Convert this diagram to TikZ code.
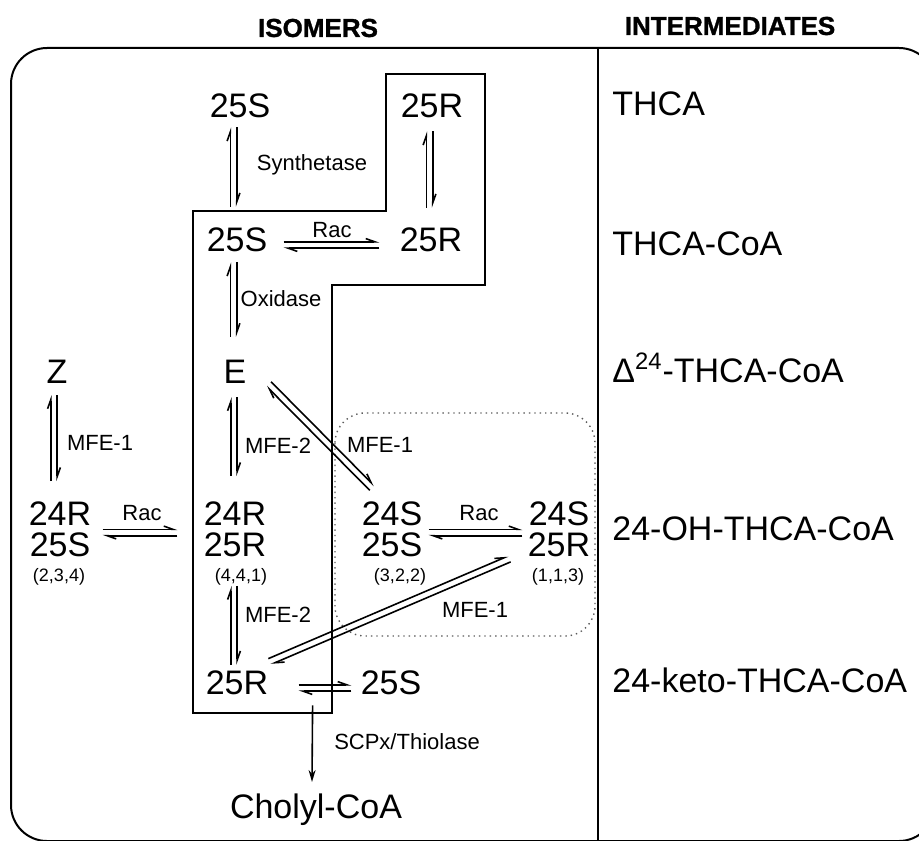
\documentclass[tikz,border=0pt]{standalone}
\usepackage{fontspec}
\setmainfont{Liberation Sans}
\newfontfamily\headfont[BoldFeatures={FakeBold=1.2}]{Liberation Sans}
\usetikzlibrary{arrows.meta,calc}
\definecolor{cordotted}{RGB}{90,90,90}

\tikzset{
  iso/.style={inner sep=0pt, align=center, font=\fontsize{17}{15.5}\selectfont},
  inter/.style={inner sep=0pt, anchor=base west, font=\fontsize{17}{19}\selectfont},
  enz/.style={inner sep=0pt, font=\fontsize{11}{13}\selectfont},
  cnt/.style={inner sep=0pt, font=\fontsize{9}{11}\selectfont},
  head/.style={inner sep=0pt, font=\fontsize{13}{15}\selectfont\headfont\bfseries},
  harp/.style={line width=0.8pt, -{Straight Barb[left, length=4.5pt, width=3.2pt]}},
}
\newcommand{\equil}[2]{%
  \draw[harp] ($#1!1.6pt!90:#2$) -- ($#2!1.6pt!-90:#1$);
  \draw[harp] ($#2!1.6pt!90:#1$) -- ($#1!1.6pt!-90:#2$);}

\begin{document}
\begin{tikzpicture}[x=0.5pt, y=-0.5pt]
  \useasboundingbox (0,0) rectangle (919,840);
  \draw[line width=1pt, rounded corners=18pt] (11,48) rectangle (935,841);
  \draw[line width=1pt] (598,48) -- (598,840);
  \draw[line width=0.9pt] (193,211) -- (386,211) -- (386,74) -- (485,74) -- (485,285)
    -- (332,285) -- (332,713) -- (193,713) -- cycle;
  \draw[cordotted, dotted, line width=0.7pt, rounded corners=15pt] (335,413) rectangle (595,636);

  \node[head] (hiso) at (318,28) {ISOMERS};
  \node[head] (hint) at (730,26) {INTERMEDIATES};

  \node[iso] (t25S) at (240,106) {25S};
  \node[iso] (t25R) at (432,106) {25R};
  \node[iso] (s25S) at (237,240) {25S};
  \node[iso] (s25R) at (431,240) {25R};
  \node[iso] (eZ) at (57,372) {Z};
  \node[iso] (eE) at (235,372) {E};
  \node[iso] (hRS) at (60,529) {24R\\25S};
  \node[iso] (hRR) at (235,529) {24R\\25R};
  \node[iso] (hSS) at (392,529) {24S\\25S};
  \node[iso] (hSR) at (559,529) {24S\\25R};
  \node[cnt] (cRS) at (59,577) {(2,3,4)};
  \node[cnt] (cRR) at (241,577) {(4,4,1)};
  \node[cnt] (cSS) at (400,577) {(3,2,2)};
  \node[cnt] (cSR) at (558,577) {(1,1,3)};
  \node[iso] (k25R) at (237,683) {25R};
  \node[iso] (k25S) at (391,683) {25S};
  \node[iso, anchor=base] (chol) at (316,818) {Cholyl-CoA};

  \node[inter] (iTHCA) at (612,115) {THCA};
  \node[inter] (iCoA) at (612,255) {THCA-CoA};
  \node[inter] (iDelta) at (612,382) {Δ\textsuperscript{24}-THCA-CoA};
  \node[inter] (iOH) at (612,540) {24-OH-THCA-CoA};
  \node[inter] (iketo) at (612,692) {24-keto-THCA-CoA};

  \node[enz] (lSyn) at (312,165) {Synthetase};
  \node[enz] (lRacA) at (332,230) {Rac};
  \node[enz] (lOx) at (281,299) {Oxidase};
  \node[enz] (lMFEa) at (100,443) {MFE-1};
  \node[enz] (lMFEb) at (278,446) {MFE-2};
  \node[enz] (lMFEc) at (380,445) {MFE-1};
  \node[enz] (lRacB) at (142,513) {Rac};
  \node[enz] (lRacC) at (479,513) {Rac};
  \node[enz] (lMFEd) at (278,615) {MFE-2};
  \node[enz] (lMFEe) at (475,610) {MFE-1};
  \node[enz] (lSCP) at (407,742) {SCPx/Thiolase};

  \equil{([xshift=-3.25pt,yshift=-4.5pt]t25S.south)}{([xshift=-1.75pt,yshift=10.5pt]s25S.north)}
  \equil{([xshift=-1.25pt,yshift=-6.5pt]t25R.south)}{([xshift=-0.75pt,yshift=10pt]s25R.north)}
  \equil{([xshift=8pt,yshift=-2.5pt]s25S.east)}{([xshift=-10pt,yshift=-2.5pt]s25R.west)}
  \equil{([xshift=-1.75pt,yshift=-5pt]s25S.south)}{([xshift=-0.75pt,yshift=11.5pt]eE.north)}
  \equil{([xshift=-1.5pt,yshift=-5.5pt]eZ.south)}{([xshift=-3pt,yshift=10pt]hRS.north)}
  \equil{([xshift=-0.5pt,yshift=-6.5pt]eE.south)}{([xshift=-0.5pt,yshift=12.5pt]hRR.north)}
  \equil{([xshift=11pt,yshift=-6pt]eE.east)}{([xshift=-10pt,yshift=6.5pt]hSS.north)}
  \equil{([xshift=5.5pt,yshift=-1.75pt]hRS.east)}{([xshift=-13pt,yshift=-1.75pt]hRR.west)}
  \equil{([xshift=3pt,yshift=-1.75pt]hSS.east)}{([xshift=-2.5pt,yshift=-1.75pt]hSR.west)}
  \equil{([xshift=-0.5pt,yshift=-14.5pt]hRR.south)}{([xshift=-1.5pt,yshift=3pt]k25R.north)}
  \equil{([xshift=-9pt,yshift=-1pt]hSR.south west)}{([xshift=0.5pt,yshift=4.5pt]k25R.north east)}
  \equil{([xshift=15pt,yshift=-2.5pt]k25R.east)}{([xshift=-4.5pt,yshift=-2.5pt]k25S.west)}
  \draw[line width=0.8pt, -{Stealth[length=6pt, width=3.5pt]}]
    ([xshift=22pt,yshift=-5pt]k25R.south east) -- ([xshift=-2pt,yshift=5.5pt]chol.north);
\end{tikzpicture}
\end{document}
